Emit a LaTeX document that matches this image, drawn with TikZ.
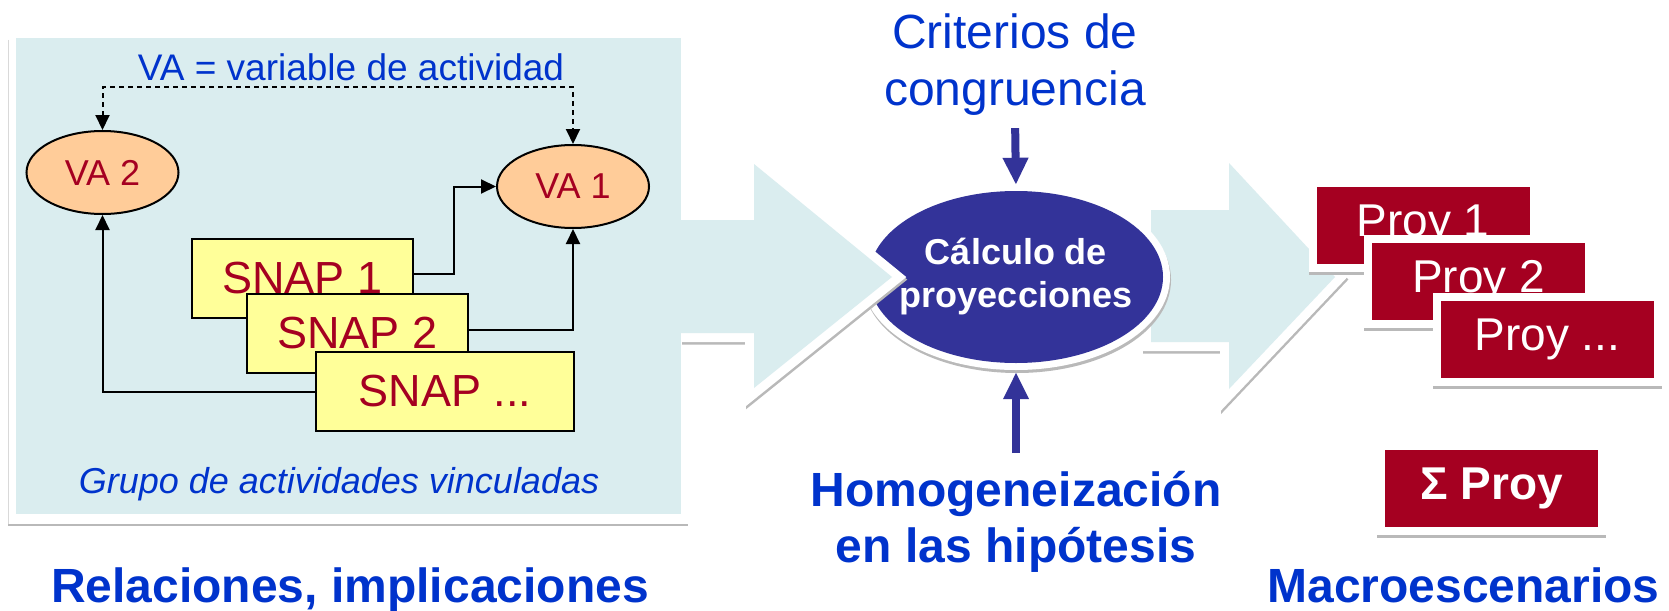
\documentclass[tikz,border=0pt]{standalone}
\usepackage{fontspec}
\setmainfont{Liberation Sans}
\usetikzlibrary{arrows.meta, positioning, shapes.geometric, calc}

\definecolor{panelblue}{RGB}{218,237,239}
\definecolor{snapyellow}{RGB}{255,255,153}
\definecolor{vapeach}{RGB}{255,204,153}
\definecolor{darkred}{RGB}{165,0,33}
\definecolor{textblue}{RGB}{0,51,204}
\definecolor{calcblue}{RGB}{51,51,153}

\begin{document}
\begin{tikzpicture}[x=1pt, y=-1pt,
    vanode/.style={ellipse, draw, line width=2pt, fill=vapeach, text=darkred, minimum width=152pt, minimum height=83pt, inner sep=0pt, font=\fontsize{36}{43}\selectfont},
    snapbox/.style={rectangle, draw, line width=2pt, fill=snapyellow, text=darkred, minimum width=221pt, minimum height=79pt, inner sep=0pt, font=\fontsize{45}{54}\selectfont},
    conn/.style={line width=2pt, -{Triangle[length=15pt, width=14pt]}},
    dashconn/.style={line width=2pt, dash pattern=on 5pt off 4pt, {Triangle[length=15pt, width=14pt]}-{Triangle[length=15pt, width=14pt]}},
    shadowline/.style={draw=gray!55, line width=2.5pt},
    arrowrim/.style={preaction={draw=gray!55, line width=18pt, line join=miter, transform canvas={shift={(1pt,-2.5pt)}}}, preaction={draw=white, line width=18pt, line join=miter}},
    calcnode/.style={ellipse, fill=calcblue, text=white, minimum width=294pt, minimum height=172pt, inner xsep=-20pt, inner ysep=0pt, align=center, font=\bfseries\fontsize{36}{43}\selectfont, preaction={draw=gray!55, line width=14pt, transform canvas={shift={(1pt,-3pt)}}}, preaction={draw=white, line width=14pt}},
    proybox/.style={rectangle, fill=darkred, text=white, minimum width=213pt, minimum height=77pt, inner sep=0pt, font=\fontsize{46}{55}\selectfont, preaction={draw=gray!55, line width=16pt, transform canvas={yshift=-3pt}}, preaction={draw=white, line width=16pt}},
    purplearrow/.style={draw=calcblue, line width=8pt, -{Triangle[length=27pt, width=24pt]}},
    bluetext/.style={text=textblue, inner sep=0pt, align=center, font=\fontsize{48}{57}\selectfont},
    boldtext/.style={bluetext, font=\bfseries\fontsize{48}{56}\selectfont}
]
    \useasboundingbox (0,0) rectangle (1669,610);

    % grupo de actividades vinculadas
    \fill[white] (8,34) rectangle (688,524);
    \draw[gray!30, line width=0.8pt] (8,40) -- (8,524);
    \draw[shadowline] (8,525) -- (688,525);
    \fill[panelblue] (16,38) rectangle (681,514);

    \node[bluetext, anchor=base, font=\fontsize{37}{44}\selectfont] (vatitle) at (351,80) {VA = variable de actividad};
    \node[vanode] (va2) at (102.5,172.5) {VA 2};
    \node[vanode] (va1) at (573,186.5) {VA 1};
    \coordinate (dtop) at (573,87);
    \draw[dashconn] (va2.north) |- (dtop) -- (va1.north);

    \node[snapbox] (snap1) at (302.5,278) {SNAP 1};
    \node[snapbox] (snap2) at (357.5,333.5) {SNAP 2};
    \node[snapbox, minimum width=258pt] (snap3) at (445,391.5) {SNAP ...};
    \coordinate (k1) at (454,186.5);
    \draw[conn] ($(snap1.east)+(0,-4)$) -| (k1) -- (va1.west);
    \draw[conn] ($(snap2.east)+(0,-3.5)$) -| (va1.south);
    \draw[conn] (snap3.west) -| (va2.south);

    \node[bluetext, anchor=base, font=\itshape\fontsize{36}{43}\selectfont] (grupo) at (339,493) {Grupo de actividades vinculadas};

    % flechas grandes y calculo
    \path[arrowrim, fill=panelblue] (1151,210) -- (1229,210) -- (1229,163) -- (1335,277) -- (1229,389) -- (1229,342) -- (1151,342) -- cycle;
    \node[calcnode] (calc) at (1016,277) {C\'alculo de\\proyecciones};
    \path[arrowrim] (681,220) -- (754,220) -- (754,164) -- (892,277) -- (754,388) -- (754,333) -- (681,333);
    \fill[panelblue] (670,220) -- (754,220) -- (754,164) -- (892,277) -- (754,388) -- (754,333) -- (670,333) -- cycle;

    \node[bluetext] (crit) at (1015,65) {Criterios de\\congruencia};
    \node[boldtext] (homog) at (1016,522) {Homogeneizaci\'on\\en las hip\'otesis};
    \draw[purplearrow, shorten <=12pt, shorten >=6pt] (crit.south) -- (calc.north);
    \draw[purplearrow, shorten <=18pt, shorten >=9pt] (homog.north) -- (calc.south);

    % macroescenarios
    \node[proybox] (proy1) at (1423,225.5) {Proy 1};
    \node[proybox] (proy2) at (1478.5,281) {Proy 2};
    \node[proybox] (proy3) at (1547.5,339.5) {Proy ...};
    \node[proybox, font=\bfseries\fontsize{46}{55}\selectfont] (sigma) at (1491.5,488.5) {Σ Proy};

    \node[boldtext, anchor=base] (rel) at (350,602) {Relaciones, implicaciones};
    \node[boldtext, anchor=base] (macro) at (1463.5,602) {Macroescenarios};
\end{tikzpicture}
\end{document}
